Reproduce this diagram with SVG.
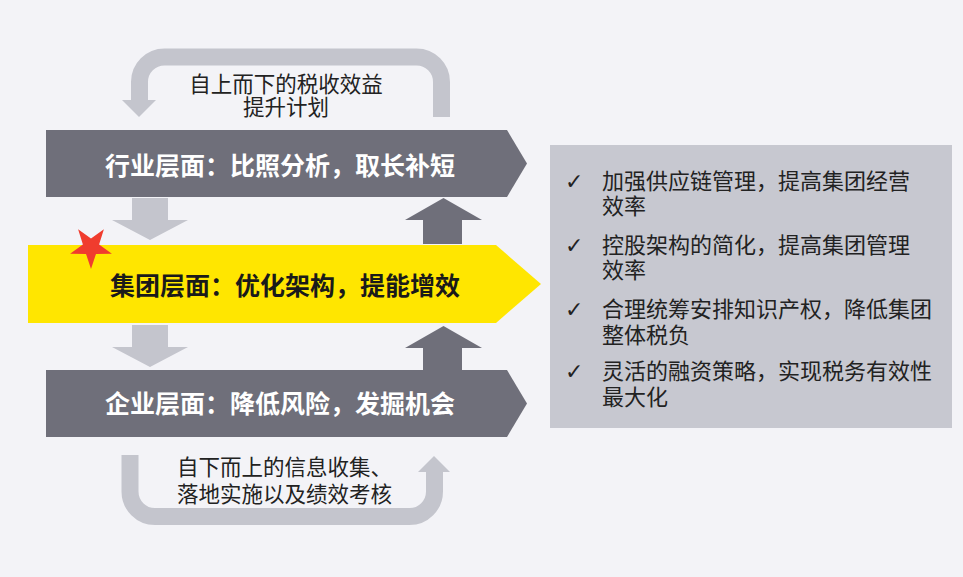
<svg xmlns="http://www.w3.org/2000/svg" width="963" height="577" viewBox="0 0 963 577">
<style>
.bg{fill:#f3f3f7}
.dark{fill:#6f6f7a}
.light{fill:#c4c5cd}
.loop{fill:none;stroke:#c4c5cd;stroke-width:17}
.t{font-family:"Noto Sans CJK SC","Noto Sans",sans-serif}
.bar{font-size:25px;font-weight:700}
.w{fill:#ffffff}
.k{fill:#1a1a1a}
.lbl{font-size:21.5px;fill:#222}
.item{font-size:22px;fill:#222}
.chk{font-family:"DejaVu Sans",sans-serif;font-size:22px;fill:#222}
</style>
<rect class="bg" x="0" y="0" width="963" height="577"/>

<g id="connectors">
  <path class="loop" d="M441.5,117 V82 A25,25 0 0 0 416.5,57 H164.5 A25,25 0 0 0 139.5,82 V101"/>
  <polygon class="light" points="122,100 156,100 139,117"/>
  <path class="loop" d="M130,455 V491.5 A25,25 0 0 0 155,516.5 H409.5 A25,25 0 0 0 434.5,491.5 V471"/>
  <polygon class="light" points="418,472 450,472 434,456"/>
  <polygon class="light" points="132,198 168,198 168,220 188,220 150,240 112,220 132,220"/>
  <polygon class="light" points="132,325 168,325 168,347 188,347 150,367 112,347 132,347"/>
  <polygon class="dark" points="423,244 462,244 462,220 482,220 443.5,198 405,220 423,220"/>
  <polygon class="dark" points="423,370 462,370 462,348 482,348 443.5,326 405,348 423,348"/>
</g>

<g id="label-top">
  <text class="t lbl" x="286" y="92" text-anchor="middle">自上而下的税收效益</text>
  <text class="t lbl" x="286" y="115" text-anchor="middle">提升计划</text>
</g>

<g id="node-industry">
  <polygon class="dark" points="46,130 507,130 527,163.5 507,197 46,197"/>
  <text class="t bar w" x="105" y="175">行业层面：比照分析，取长补短</text>
</g>

<g id="node-group">
  <polygon fill="#ffe600" points="28,245 496,245 541,284 496,323 28,323"/>
  <text class="t bar k" x="110" y="295">集团层面：优化架构，提能增效</text>
</g>

<g id="star">
  <polygon fill="#f03c2e" points="91,269 86,253.9 70.1,253.8 82.9,244.4 78.1,229.2 91,238.5 103.9,229.2 99.1,244.4 111.9,253.8 96,253.9"/>
</g>

<g id="node-enterprise">
  <polygon class="dark" points="46,370 507,370 527,403.5 507,437 46,437"/>
  <text class="t bar w" x="105" y="413">企业层面：降低风险，发掘机会</text>
</g>

<g id="label-bottom">
  <text class="t lbl" x="177" y="475">自下而上的信息收集、</text>
  <text class="t lbl" x="177" y="502">落地实施以及绩效考核</text>
</g>

<g id="panel">
  <rect fill="#c7c8d0" x="550" y="145" width="402" height="283"/>
  <text class="chk" x="565" y="189">✓</text>
  <text class="t item" x="602" y="189">加强供应链管理，提高集团经营</text>
  <text class="t item" x="602" y="214">效率</text>
  <text class="chk" x="565" y="253">✓</text>
  <text class="t item" x="602" y="253">控股架构的简化，提高集团管理</text>
  <text class="t item" x="602" y="278">效率</text>
  <text class="chk" x="565" y="317">✓</text>
  <text class="t item" x="602" y="317">合理统筹安排知识产权，降低集团</text>
  <text class="t item" x="602" y="343">整体税负</text>
  <text class="chk" x="565" y="379">✓</text>
  <text class="t item" x="602" y="379">灵活的融资策略，实现税务有效性</text>
  <text class="t item" x="602" y="405">最大化</text>
</g>
</svg>
